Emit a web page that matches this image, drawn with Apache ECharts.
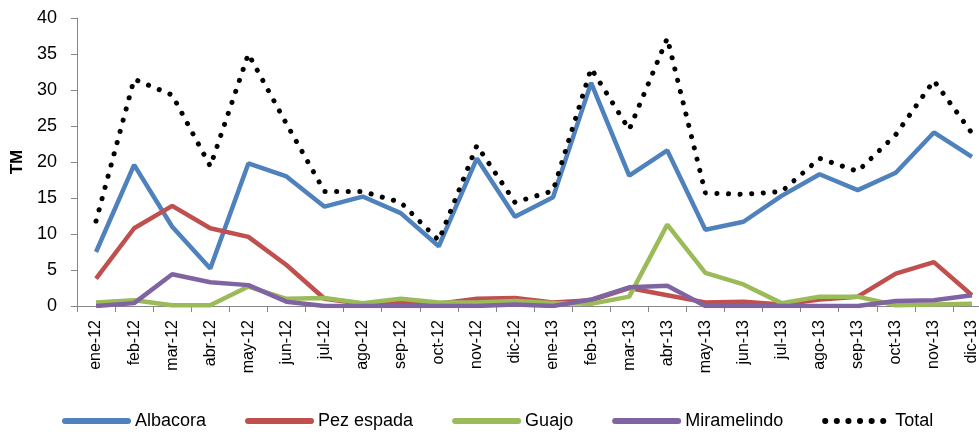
<!DOCTYPE html>
<html>
<head>
<meta charset="utf-8">
<title>TM</title>
<style>
    html, body { margin: 0; padding: 0; background: #fff; }
    #chart { width: 979px; height: 435px; }
</style>
</head>
<body>
<div id="chart"></div>
<script src="https://cdn.jsdelivr.net/npm/echarts@6/dist/echarts.min.js"></script>
<script>
var months = ['ene-12','feb-12','mar-12','abr-12','may-12','jun-12','jul-12','ago-12','sep-12','oct-12','nov-12','dic-12',
              'ene-13','feb-13','mar-13','abr-13','may-13','jun-13','jul-13','ago-13','sep-13','oct-13','nov-13','dic-13']
var albacora    = [7.5,19.6,11.0,5.2,19.8,18.0,13.8,15.2,12.9,8.3,20.5,12.4,15.1,31.0,18.1,21.6,10.6,11.7,15.3,18.3,16.1,18.5,24.1,20.7]
var pezEspada   = [3.8,10.8,13.9,10.8,9.6,5.7,1.0,0.3,0.5,0.3,1.0,1.1,0.5,0.8,2.5,1.5,0.5,0.6,0.2,0.9,1.3,4.5,6.1,1.5]
var guajo       = [0.5,0.8,0.1,0.1,2.7,1.0,1.1,0.4,1.0,0.5,0.5,0.7,0.4,0.3,1.3,11.3,4.6,3.0,0.4,1.3,1.3,0.1,0.2,0.3]
var miramelindo = [0,0.4,4.4,3.3,2.9,0.6,0,0,0,0,0,0.2,0,0.9,2.6,2.8,0,0,0,0,0,0.7,0.8,1.5]
var total       = [11.8,31.5,29.3,19.4,35.0,25.3,15.9,15.9,14.4,9.1,22.3,14.4,16.0,33.0,24.5,37.2,15.7,15.5,15.9,20.5,18.7,23.8,31.3,24.0]

var font = 'Liberation Sans'
var chart = echarts.init(document.getElementById('chart'))

function solid(name, data, color) {
    return {
        name: name,
        type: 'line',
        data: data,
        symbol: 'none',
        color: color,
        lineStyle: { width: 4.5, color: color },
        animation: false
    }
}

var option = {
    textStyle: { fontFamily: font },
    grid: { left: 77, top: 18, bottom: 129, width: 914, outerBoundsMode: 'none', containLabel: false },
    legend: {
        bottom: 0,
        left: 57,
        itemWidth: 63,
        itemHeight: 12,
        itemGap: 39,
        itemStyle: { opacity: 0 },
        lineStyle: { width: 6, cap: 'round' },
        textStyle: { fontSize: 18, color: '#000', fontFamily: font, padding: [0, 0, 0, 2] },
        data: ['Albacora','Pez espada','Guajo','Miramelindo','Total']
    },
    xAxis: {
        type: 'category',
        data: months,
        boundaryGap: true,
        axisLine: { lineStyle: { color: '#868686', width: 1 } },
        axisTick: { show: true, length: 6, lineStyle: { color: '#868686' } },
        axisLabel: { rotate: 90, fontSize: 16, color: '#000', margin: 14, interval: 0 }
    },
    yAxis: {
        type: 'value',
        min: 0,
        max: 40,
        interval: 5,
        name: 'TM',
        nameLocation: 'middle',
        nameRotate: 90,
        nameGap: 50,
        nameTextStyle: { fontSize: 17, fontWeight: 'bold', color: '#000' },
        axisLine: { show: true, lineStyle: { color: '#868686', width: 1 } },
        axisTick: { show: true, length: 6, lineStyle: { color: '#868686' } },
        axisLabel: { fontSize: 18, color: '#000', margin: 20 },
        splitLine: { show: false }
    },
    series: [
        solid('Albacora', albacora, '#4F81BD'),
        solid('Pez espada', pezEspada, '#C0504D'),
        solid('Guajo', guajo, '#9BBB59'),
        solid('Miramelindo', miramelindo, '#8064A2'),
        {
            name: 'Total',
            type: 'line',
            data: total,
            symbol: 'none',
            color: '#000',
            lineStyle: { width: 5, color: '#000', type: [0.1, 11.5], cap: 'round' },
            animation: false
        }
    ]
}
chart.setOption(option)
</script>
</body>
</html>
